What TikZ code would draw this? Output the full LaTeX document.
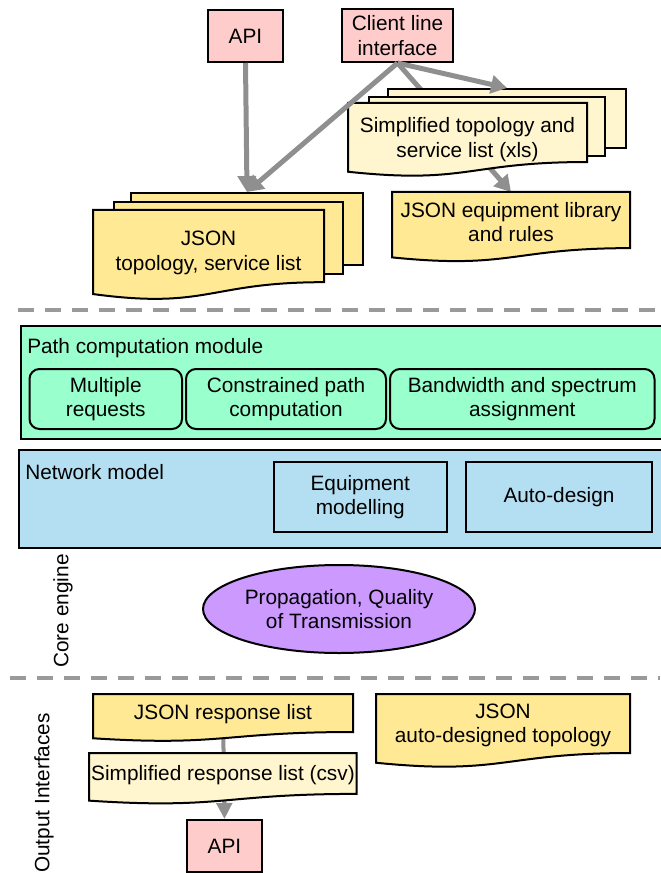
\documentclass[tikz,border=0pt]{standalone}
\usepackage{fontspec}
\setmainfont{Liberation Sans}
\usetikzlibrary{arrows.meta,shapes.geometric}

\pgfdeclarelayer{behind}
\pgfsetlayers{behind,main}

\definecolor{pinkbox}{HTML}{FFCCCC}
\definecolor{jsonyellow}{HTML}{FFE994}
\definecolor{paleyellow}{HTML}{FFF5CE}
\definecolor{modgreen}{HTML}{99FFCC}
\definecolor{modblue}{HTML}{B4DFF2}
\definecolor{qotviolet}{HTML}{CC99FF}
\definecolor{flowgray}{HTML}{8F8F8F}
\definecolor{sepgray}{HTML}{9A9A9A}

\def\pxu{0.75pt}

% document outline: left x, top y, width, full height, fill colour
\newcommand\docpath[5]{%
  \path[outline,fill=#5] (#1,#2) -- ({#1+#3},#2) -- ({#1+#3},{#2+0.802*#4})
    .. controls ({#1+0.5*#3},{#2+0.802*#4}) and ({#1+0.5*#3},{#2+1.107*#4})
    .. (#1,{#2+0.934*#4}) -- cycle;}

\begin{document}
\begin{tikzpicture}[x=0.75pt,y=-0.75pt,
  font=\fontsize{15.6}{18.4}\selectfont,
  outline/.style={draw=black,line width=1.5pt},
  boxsize/.style 2 args={minimum width=#1*\pxu,minimum height=#2*\pxu},
  iobox/.style={outline,fill=pinkbox,inner sep=0pt,align=center},
  layerbox/.style={outline,inner sep=0pt,anchor=north west},
  doctext/.style={inner sep=0pt,align=center},
  modbox/.style={outline,rounded corners=10*\pxu,inner sep=0pt,align=center},
  blockbox/.style={outline,inner sep=0pt,align=center},
  flow/.style={draw=flowgray,line width=3.75pt,-{Triangle[width=13.5pt,length=12pt]}},
  flowthin/.style={draw=flowgray,line width=3pt,-{Triangle[width=11.5pt,length=12pt]}},
  sep/.style={draw=sepgray,line width=3pt,dash pattern=on 12pt off 8.25pt}]

\useasboundingbox (0,0) rectangle (660,873);

% ---------- input interfaces ----------
\node[iobox,boxsize={75}{52}] (api) at (245.5,36) {API};
\node[iobox,boxsize={111}{53}] (client) at (397.5,35.5) {Client line\\interface};

% JSON topology stack
\node[layerbox,fill=jsonyellow,boxsize={232}{72}] (jtopC) at (130,192) {};
\node[layerbox,fill=jsonyellow,boxsize={229}{72}] (jtopB) at (113,201) {};
\docpath{93}{210}{231}{90}{jsonyellow}
\node[doctext] (jtop) at (208.5,253) {JSON\\topology, service list};

% JSON equipment library
\docpath{392}{192}{238}{70}{jsonyellow}
\node[doctext,anchor=north,boxsize={238}{60}] (equip) at (511,192) {JSON equipment library\\and rules};

\begin{pgfonlayer}{behind}
  \draw[flow] (client.south) -- (equip.north);
\end{pgfonlayer}

% simplified topology stack
\node[layerbox,fill=paleyellow,boxsize={238}{59}] (xlsC) at (387,88) {};
\node[layerbox,fill=paleyellow,boxsize={236}{59}] (xlsB) at (368,96) {};
\docpath{348}{103}{239}{73.6}{paleyellow}
\node[doctext] (xls) at (467.5,139.5) {Simplified topology and\\service list (xls)};

\draw[flow] (api.south) -- (jtopC.north);
\draw[flow] (client.south) -- (jtopC.north);
\draw[flow] (client.south) -- (xlsC.north);

\draw[sep] (18,310) -- (660,310);

% ---------- core engine ----------
\node[outline,fill=modgreen,anchor=north west,boxsize={646}{113}] (pcm) at (20,325) {};
\node[anchor=west,inner sep=0pt] (pcmlabel) at (27,348) {Path computation module};
\node[modbox,fill=modgreen,boxsize={152.5}{60}] (multi) at (105.75,399) {Multiple\\requests};
\node[modbox,fill=modgreen,boxsize={200}{60}] (cpath) at (286,399) {Constrained path\\computation};
\node[modbox,fill=modgreen,boxsize={264.5}{60}] (bsa) at (522.25,399) {Bandwidth and spectrum\\assignment};

\node[outline,fill=modblue,anchor=north west,boxsize={648}{98}] (netmodel) at (18,449) {};
\node[anchor=west,inner sep=0pt] (netlabel) at (25,472) {Network model};
\node[blockbox,fill=modblue,boxsize={173.4}{70}] (eqmod) at (360.3,497) {Equipment\\modelling};
\node[blockbox,fill=modblue,boxsize={186}{70}] (autod) at (559,497) {Auto-design};

\node[ellipse,outline,fill=qotviolet,inner sep=0pt,align=center,boxsize={272}{88}] (qot) at (339,609)
  {Propagation, Quality\\of Transmission};

\node[rotate=90,inner sep=0pt] (core) at (63,611) {Core engine};

\draw[sep] (10,678) -- (660,678);

% ---------- output interfaces ----------
\docpath{93}{694}{260}{47.4}{jsonyellow}
\node[doctext] (jresp) at (223,714) {JSON response list};

\docpath{89}{753}{267.5}{51}{paleyellow}
\node[doctext] (csv) at (223,775) {Simplified response list (csv)};

\docpath{376}{694}{254}{73.6}{jsonyellow}
\node[doctext] (autotopo) at (503,725.5) {JSON\\auto-designed topology};

\node[iobox,boxsize={75}{52}] (api2) at (224.5,846) {API};

\begin{pgfonlayer}{behind}
  \draw[flowthin] (jresp.center) -- (api2.north);
\end{pgfonlayer}

\node[rotate=90,inner sep=0pt] (outif) at (44,793) {Output Interfaces};

\end{tikzpicture}
\end{document}
